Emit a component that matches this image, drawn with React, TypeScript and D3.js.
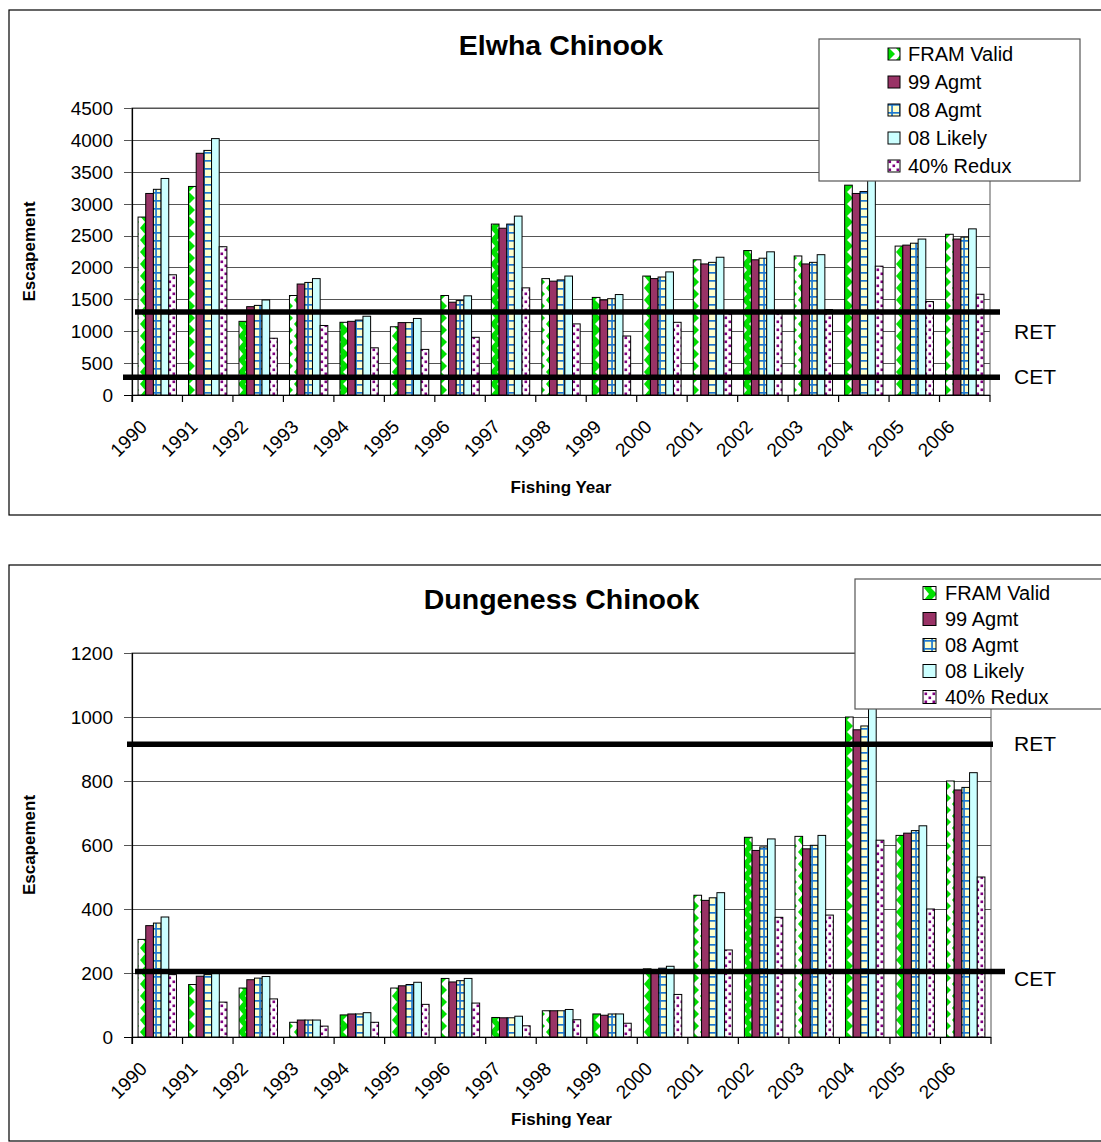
import React from 'react';
import * as d3 from 'd3';

const years = ['1990','1991','1992','1993','1994','1995','1996','1997','1998','1999','2000','2001','2002','2003','2004','2005','2006'];
const seriesNames = ['FRAM Valid', '99 Agmt', '08 Agmt', '08 Likely', '40% Redux'];

const elwhaFram = [2790, 3270, 1155, 1560, 1140, 1070, 1560, 2680, 1825, 1530, 1865, 2120, 2265, 2180, 3290, 2335, 2520];
const elwha99 = [3160, 3790, 1385, 1740, 1155, 1135, 1455, 2615, 1785, 1490, 1825, 2055, 2120, 2055, 3160, 2350, 2445];
const elwha08A = [3225, 3835, 1405, 1765, 1175, 1135, 1480, 2680, 1805, 1510, 1850, 2080, 2145, 2080, 3190, 2380, 2475];
const elwha08L = [3395, 4020, 1490, 1825, 1235, 1200, 1555, 2805, 1865, 1575, 1930, 2160, 2245, 2200, 3420, 2445, 2605];
const elwha40 = [1885, 2325, 890, 1090, 740, 715, 905, 1680, 1115, 925, 1140, 1280, 1280, 1340, 2020, 1465, 1580];
const elwhaTicks = [0, 500, 1000, 1500, 2000, 2500, 3000, 3500, 4000, 4500];
const elwhaRET = 1300;
const elwhaCET = 280;

const dungFram = [305, 164, 153, 46, 69, 153, 183, 61, 82, 72, 213, 443, 624, 627, 1000, 630, 800];
const dung99 = [348, 190, 179, 53, 72, 160, 172, 60, 82, 68, 210, 427, 583, 588, 960, 637, 772];
const dung08A = [356, 195, 184, 53, 72, 164, 176, 60, 82, 72, 215, 435, 594, 599, 972, 645, 780];
const dung08L = [375, 200, 189, 53, 76, 171, 183, 65, 86, 72, 221, 451, 619, 630, 1030, 660, 826];
const dung40 = [195, 109, 119, 34, 46, 102, 106, 35, 54, 43, 133, 272, 374, 381, 615, 400, 500];
const dungTicks = [0, 200, 400, 600, 800, 1000, 1200];
const dungRET = 915;
const dungCET = 205;

const FONT = '"Liberation Sans", Arial, Helvetica, sans-serif';
const fills = ['url(#pFram)', '#993366', 'url(#pAgmt)', '#CCFFFF', 'url(#pRedux)'];

function Patterns() {
  return (
    <defs>
      <pattern id="pFram" patternUnits="userSpaceOnUse" width="14" height="12">
        <rect x="0" y="0" width="7" height="12" fill="#00E000" />
        <polygon points="0,0 5,6 0,12" fill="#ffffff" />
        <rect x="7" y="0" width="7" height="12" fill="#ffffff" />
        <polygon points="7,0 13,6 7,12" fill="#00E000" />
      </pattern>
      <pattern id="pAgmt" patternUnits="userSpaceOnUse" width="8" height="8">
        <rect x="0" y="0" width="8" height="8" fill="#FFFFCC" />
        <rect x="0" y="0" width="8" height="1.7" fill="#1E78D0" />
        <rect x="3.2" y="0" width="1.7" height="8" fill="#1E78D0" />
      </pattern>
      <pattern id="pRedux" patternUnits="userSpaceOnUse" width="8" height="8">
        <rect x="0" y="0" width="8" height="8" fill="#ffffff" />
        <rect x="0.5" y="0.5" width="2.6" height="2.6" fill="#800080" />
        <rect x="4.5" y="4.5" width="2.6" height="2.6" fill="#800080" />
      </pattern>
    </defs>
  );
}

type ChartProps = {
  frame: { x: number; y: number; w: number; h: number };
  title: string;
  titleY: number;
  plot: { left: number; right: number; top: number; bottom: number };
  series: number[][];
  ticks: number[];
  ret: number;
  cet: number;
  retLine: [number, number];
  cetLine: [number, number];
  retLabelY: number;
  cetLabelY: number;
  xTitleY: number;
  legend: { x: number; y: number; w: number; h: number; swX: number; sw: number; txX: number; row0: number; rowH: number };
};

function Chart(p: ChartProps) {
  const { plot } = p;
  const x = d3.scaleBand<string>().domain(years).range([plot.left, plot.right]).padding(0);
  const bw = x.bandwidth();
  const gap = bw * 0.24;
  const xs = d3.scaleBand<string>().domain(seriesNames).range([gap / 2, bw - gap / 2]).padding(0);
  const y = d3.scaleLinear().domain([0, p.ticks[p.ticks.length - 1]]).range([plot.bottom, plot.top]);
  const cx = (plot.left + plot.right) / 2;
  const cy = (plot.top + plot.bottom) / 2;
  const L = p.legend;
  return (
    <g fontFamily={FONT}>
      <rect x={p.frame.x} y={p.frame.y} width={p.frame.w} height={p.frame.h} fill="#fff" stroke="#000" strokeWidth={1.2} />
      <text x={cx} y={p.titleY} textAnchor="middle" fontSize={28.5} fontWeight="bold">{p.title}</text>
      <rect x={plot.left} y={plot.top} width={plot.right - plot.left} height={plot.bottom - plot.top} fill="none" stroke="#555" strokeWidth={1} />
      {p.ticks.map((t) => (
        <g key={t}>
          <line x1={plot.left - 8} x2={plot.right} y1={Math.round(y(t)) + 0.5} y2={Math.round(y(t)) + 0.5} stroke={t === 0 ? '#000' : '#555'} strokeWidth={1} />
          <text x={113} y={y(t)} dy="0.36em" textAnchor="end" fontSize={19}>{t}</text>
        </g>
      ))}
      {years.map((yr, i) => (
        <g key={yr}>
          {p.series.map((s, j) => (
            <rect key={j} x={(x(yr) as number) + (xs(seriesNames[j]) as number)} y={y(s[i])} width={xs.bandwidth()} height={y(0) - y(s[i])} fill={fills[j]} stroke="#000" strokeWidth={1} />
          ))}
        </g>
      ))}
      <line x1={plot.left + 0.5} x2={plot.left + 0.5} y1={plot.top} y2={plot.bottom + 7} stroke="#000" strokeWidth={1.2} />
      <line x1={plot.left} x2={plot.right} y1={plot.bottom + 0.5} y2={plot.bottom + 0.5} stroke="#000" strokeWidth={1.2} />
      {years.concat(['end']).map((yr, i) => {
        const xx = plot.left + i * bw;
        return <line key={'t' + i} x1={xx} x2={xx} y1={plot.bottom} y2={plot.bottom + 7} stroke="#000" strokeWidth={1.2} />;
      })}
      {years.map((yr) => {
        const xc = (x(yr) as number) + bw / 2;
        return (
          <text key={'l' + yr} transform={`translate(${xc - 9},${plot.bottom + 33}) rotate(-45)`} textAnchor="end" fontSize={19}>{yr}</text>
        );
      })}
      <line x1={p.retLine[0]} x2={p.retLine[1]} y1={y(p.ret)} y2={y(p.ret)} stroke="#000" strokeWidth={5.5} />
      <line x1={p.cetLine[0]} x2={p.cetLine[1]} y1={y(p.cet)} y2={y(p.cet)} stroke="#000" strokeWidth={5.5} />
      <text x={1014} y={p.retLabelY} fontSize={21}>RET</text>
      <text x={1014} y={p.cetLabelY} fontSize={21}>CET</text>
      <text transform={`translate(35,${cy}) rotate(-90)`} textAnchor="middle" fontSize={17} fontWeight="bold">Escapement</text>
      <text x={cx} y={p.xTitleY} textAnchor="middle" fontSize={17} fontWeight="bold">Fishing Year</text>
      <rect x={L.x} y={L.y} width={L.w} height={L.h} fill="#fff" stroke="#555" strokeWidth={1.2} />
      {seriesNames.map((n, j) => {
        const ry = L.row0 + j * L.rowH;
        return (
          <g key={n}>
            <rect x={L.swX} y={ry - L.sw / 2} width={L.sw} height={L.sw} fill={fills[j]} stroke="#000" strokeWidth={1} />
            <text x={L.txX} y={ry} dy="0.36em" fontSize={20}>{n}</text>
          </g>
        );
      })}
    </g>
  );
}

export default function App() {
  return (
    <svg width={1101} height={1142} style={{ position: 'absolute', left: 0, top: 0, background: '#fff' }}>
      <Patterns />
      <Chart
        frame={{ x: 9, y: 10, w: 1100, h: 505 }}
        title="Elwha Chinook"
        titleY={55}
        plot={{ left: 132, right: 990, top: 108, bottom: 395 }}
        series={[elwhaFram, elwha99, elwha08A, elwha08L, elwha40]}
        ticks={elwhaTicks}
        ret={elwhaRET}
        cet={elwhaCET}
        retLine={[135, 1000]}
        cetLine={[123, 1000]}
        retLabelY={339}
        cetLabelY={384}
        xTitleY={493}
        legend={{ x: 819, y: 39, w: 261, h: 142, swX: 888, sw: 12, txX: 908, row0: 54, rowH: 28 }}
      />
      <Chart
        frame={{ x: 9, y: 565, w: 1100, h: 576 }}
        title="Dungeness Chinook"
        titleY={609}
        plot={{ left: 132, right: 991, top: 653, bottom: 1037 }}
        series={[dungFram, dung99, dung08A, dung08L, dung40]}
        ticks={dungTicks}
        ret={dungRET}
        cet={dungCET}
        retLine={[127, 993]}
        cetLine={[135, 1005]}
        retLabelY={751}
        cetLabelY={986}
        xTitleY={1125}
        legend={{ x: 855, y: 579, w: 260, h: 130, swX: 923, sw: 13, txX: 945, row0: 593, rowH: 26 }}
      />
    </svg>
  );
}
